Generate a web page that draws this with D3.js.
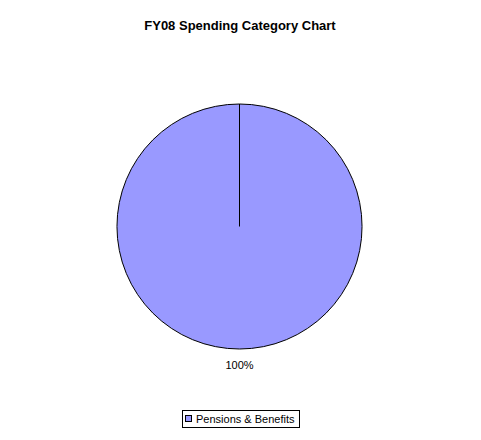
<!DOCTYPE html>
<html><head><meta charset="utf-8">
<script src="https://cdn.jsdelivr.net/npm/d3@7"></script>
<style>body{margin:0;background:#fff}svg{display:block}</style>
</head><body>
<script>
const categories = ["Pensions & Benefits"];
const values = [100];
const labels = ["100%"];
const colors = ["#9999FF"];

const W = 481, H = 440;
const svg = d3.select("body").append("svg").attr("width", W).attr("height", H);
svg.append("text").attr("x", 240).attr("y", 30).attr("text-anchor", "middle")
  .attr("font-family", "Liberation Sans, Arial, sans-serif").attr("font-weight", "bold")
  .attr("font-size", 13).text("FY08 Spending Category Chart");

const cx = 239.5, cy = 226.5, r = 122.5;
const pie = d3.pie().sort(null).value(d => d);
const arcs = pie(values);
const arc = d3.arc().innerRadius(0).outerRadius(r);
const g = svg.append("g").attr("transform", `translate(${cx},${cy})`);
g.selectAll("path").data(arcs).enter().append("path")
  .attr("d", arc).attr("fill", (d, i) => colors[i]).attr("stroke", "#000").attr("stroke-width", 1);
// slice boundary line
arcs.forEach(a => {
  g.append("line").attr("x1", 0).attr("y1", 0)
    .attr("x2", r * Math.sin(a.startAngle)).attr("y2", -r * Math.cos(a.startAngle))
    .attr("stroke", "#000").attr("stroke-width", 1);
});
// labels
arcs.forEach((a, i) => {
  const mid = (a.startAngle + a.endAngle) / 2;
  const lr = r + 16;
  svg.append("text").attr("x", cx + lr * Math.sin(mid)).attr("y", cy - lr * Math.cos(mid) + 4)
    .attr("text-anchor", "middle").attr("font-family", "Liberation Sans, Arial, sans-serif")
    .attr("font-size", 11).text(labels[i]);
});
// legend
const lg = svg.append("g");
lg.append("rect").attr("x", 182.5).attr("y", 410.5).attr("width", 117).attr("height", 17)
  .attr("fill", "#fff").attr("stroke", "#000");
categories.forEach((c, i) => {
  lg.append("rect").attr("x", 185.5).attr("y", 415.5).attr("width", 6).attr("height", 6)
    .attr("fill", colors[i]).attr("stroke", "#000");
  lg.append("text").attr("x", 196).attr("y", 423).attr("font-family", "Liberation Sans, Arial, sans-serif")
    .attr("font-size", 11).text(c);
});
</script>
</body></html>
